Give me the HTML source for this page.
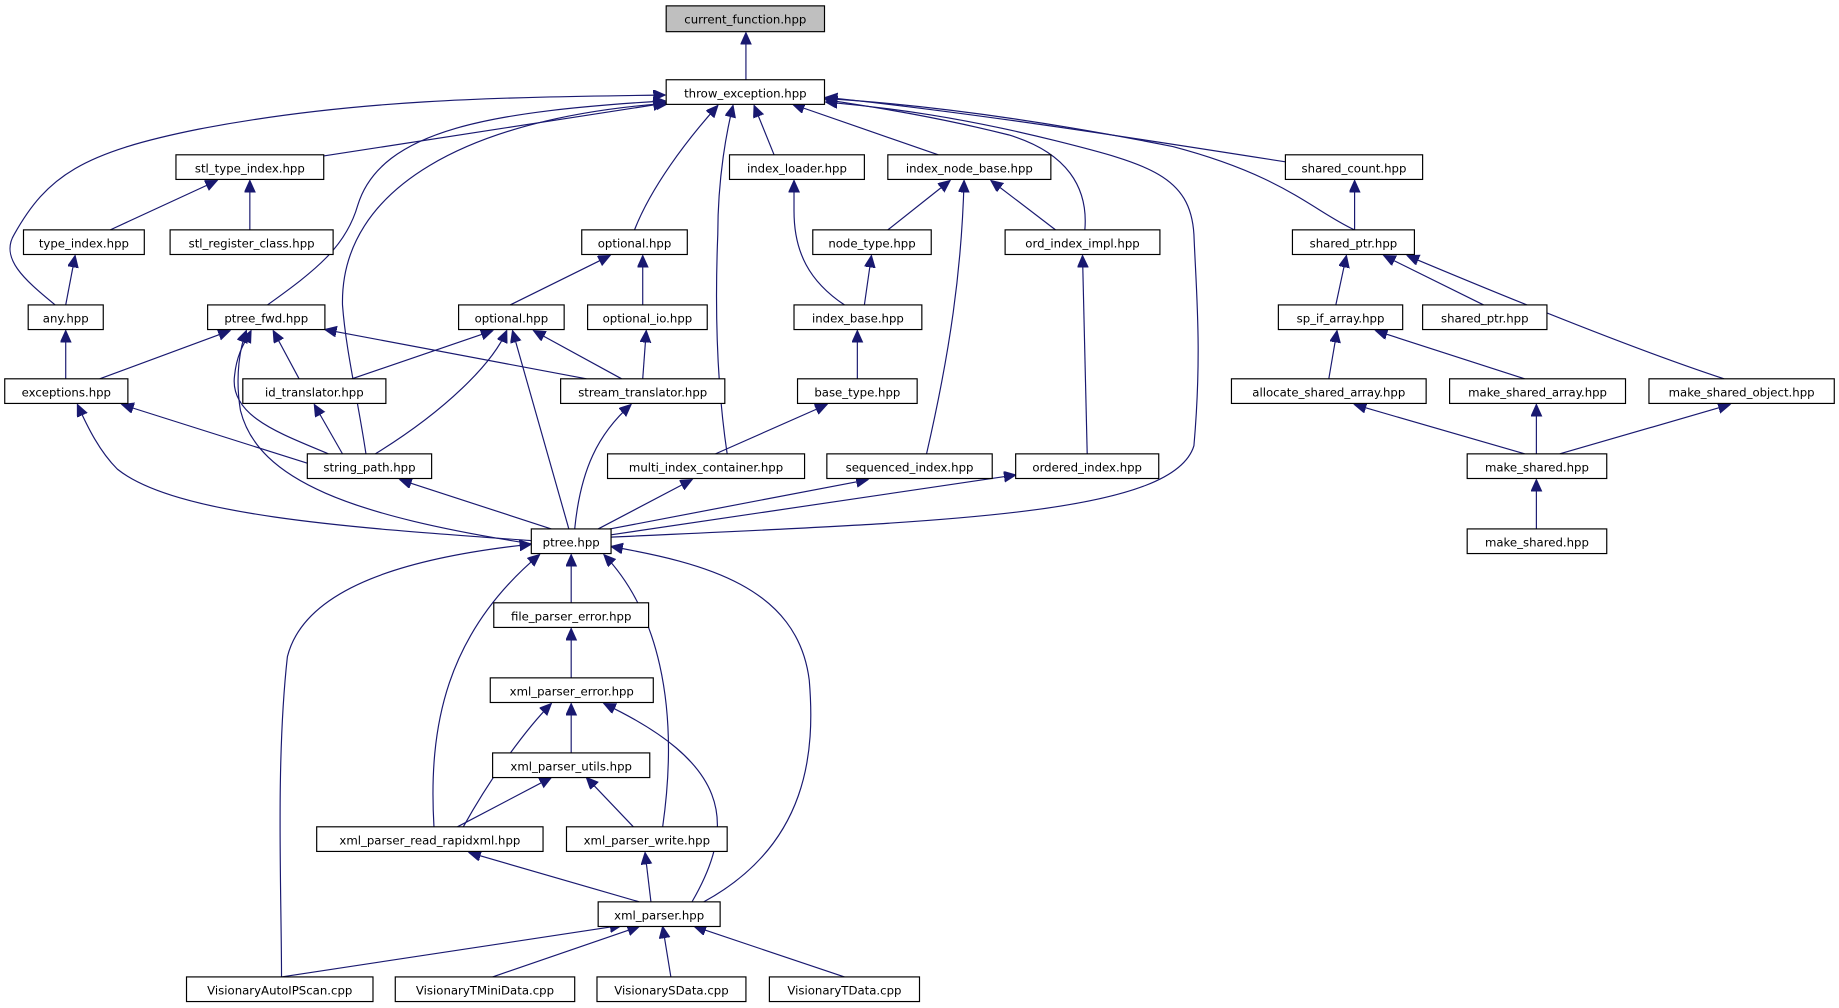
<!DOCTYPE html>
<html><head><meta charset="utf-8"><style>
html,body{margin:0;padding:0;background:#fff;width:1839px;height:1008px;overflow:hidden}
svg{display:block}
text{font-family:"DejaVu Sans","Liberation Sans",sans-serif;font-size:10px;fill:#000;text-anchor:middle}
rect{fill:#fff;stroke:#000;stroke-width:1}
path{fill:none;stroke:#191970;stroke-width:1}
</style></head><body>
<svg width="1839" height="1008" viewBox="0 0 1568 859.5" xmlns="http://www.w3.org/2000/svg">
<defs><marker id="a" markerUnits="userSpaceOnUse" markerWidth="12" markerHeight="10" refX="10" refY="4.5" orient="auto"><polygon points="0,0 10,4.5 0,9" fill="#191970" stroke="#191970"/></marker></defs>
<g marker-end="url(#a)">
<path d="M636,68 L636,28"/>
<path d="M276,133 L567,88"/>
<path d="M47,260 C20,238 0,220 12,200 C40,150 70,130 170,110 C300,85 420,83 567,81"/>
<path d="M228,260 C270,230 295,210 305,175 C325,110 420,95 567,86"/>
<path d="M312,387 C305,340 295,300 292,260 C290,160 400,100 570,88"/>
<path d="M541,196 C555,160 585,120 612,90"/>
<path d="M620,387 C610,320 610,250 612,200 C612,150 620,110 625,90"/>
<path d="M660,132 L643,90"/>
<path d="M800,132 L676,89"/>
<path d="M925,196 C928,160 910,130 860,115 C800,100 750,92 704,85"/>
<path d="M521,458 C800,445 1000,440 1018,380 C1025,300 1020,250 1018,200 C1015,150 980,140 900,120 C820,100 760,92 704,87"/>
<path d="M1096,138 C950,115 820,95 704,83"/>
<path d="M1155,196 C1120,180 1095,150 1000,125 C900,105 800,90 704,84"/>
<path d="M94,196 L185,154"/>
<path d="M213,196 L213,154"/>
<path d="M56,260 L64,218"/>
<path d="M56,323 L56,282"/>
<path d="M85,323 L196,282"/>
<path d="M255,323 L233,282"/>
<path d="M500,323 L277,281"/>
<path d="M280,387 C240,370 195,355 200,320 C202,300 210,290 214,282"/>
<path d="M455,464 C300,440 220,410 205,350 C200,320 205,295 210,282"/>
<path d="M292,387 L268,345"/>
<path d="M262,395 L104,345"/>
<path d="M453,461 C300,450 150,440 100,400 C85,385 75,365 66,345"/>
<path d="M470,451 L341,409"/>
<path d="M435,260 L520,218"/>
<path d="M548,260 L548,218"/>
<path d="M300,323 L420,282"/>
<path d="M320,387 C380,350 420,310 432,282"/>
<path d="M485,451 L437,282"/>
<path d="M530,323 L455,282"/>
<path d="M548,323 L551,282"/>
<path d="M490,451 C495,400 510,370 538,345"/>
<path d="M757,196 L810,154"/>
<path d="M900,196 L845,154"/>
<path d="M790,387 C810,300 820,230 822,154"/>
<path d="M737,260 L743,218"/>
<path d="M720,260 C690,240 677,215 677,180 L677,154"/>
<path d="M731,323 L731,282"/>
<path d="M610,387 L705,345"/>
<path d="M927,387 L923,218"/>
<path d="M510,451 L590,409"/>
<path d="M515,452 L740,409"/>
<path d="M521,456 L866,405"/>
<path d="M1155,196 L1155,154"/>
<path d="M1139,260 L1148,218"/>
<path d="M1265,260 L1180,218"/>
<path d="M1470,323 C1400,300 1300,260 1200,218"/>
<path d="M1133,323 L1140,282"/>
<path d="M1300,323 L1173,282"/>
<path d="M1300,387 L1155,345"/>
<path d="M1310,387 L1310,345"/>
<path d="M1330,387 L1475,345"/>
<path d="M1310,451 L1310,409"/>
<path d="M487,514 L487,473"/>
<path d="M487,578 L487,536"/>
<path d="M487,642 L487,600"/>
<path d="M395,705 C420,660 450,620 470,600"/>
<path d="M370,705 C365,620 380,540 460,473"/>
<path d="M390,705 L470,663"/>
<path d="M540,705 L500,663"/>
<path d="M565,705 C580,600 560,520 515,473"/>
<path d="M555,769 L550,727"/>
<path d="M545,769 L400,727"/>
<path d="M590,769 C630,700 620,650 515,600"/>
<path d="M600,769 C690,720 695,640 690,580 C680,500 600,480 521,466"/>
<path d="M240,833 C240,760 235,650 245,560 C260,500 350,475 453,464"/>
<path d="M240,833 L530,789"/>
<path d="M420,833 L545,790"/>
<path d="M572,833 L565,790"/>
<path d="M720,833 L592,790"/>
</g>
<g>
<rect x="568" y="5" width="135" height="22" style="fill:#bfbfbf"/><text x="635.5" y="20">current_function.hpp</text>
<rect x="568" y="68" width="135" height="21"/><text x="635.5" y="83">throw_exception.hpp</text>
<rect x="150" y="132" width="126" height="21"/><text x="213" y="147">stl_type_index.hpp</text>
<rect x="622" y="132" width="115" height="21"/><text x="679.5" y="147">index_loader.hpp</text>
<rect x="757" y="132" width="139" height="21"/><text x="826.5" y="147">index_node_base.hpp</text>
<rect x="1096" y="132" width="117" height="21"/><text x="1154.5" y="147">shared_count.hpp</text>
<rect x="20" y="196" width="103" height="21"/><text x="71.5" y="211">type_index.hpp</text>
<rect x="145" y="196" width="139" height="21"/><text x="214.5" y="211">stl_register_class.hpp</text>
<rect x="496" y="196" width="90" height="21"/><text x="541" y="211">optional.hpp</text>
<rect x="693" y="196" width="101" height="21"/><text x="743.5" y="211">node_type.hpp</text>
<rect x="857" y="196" width="132" height="21"/><text x="923" y="211">ord_index_impl.hpp</text>
<rect x="1102" y="196" width="104" height="21"/><text x="1154" y="211">shared_ptr.hpp</text>
<rect x="24" y="260" width="64" height="21"/><text x="56" y="275">any.hpp</text>
<rect x="177" y="260" width="100" height="21"/><text x="227" y="275">ptree_fwd.hpp</text>
<rect x="391" y="260" width="90" height="21"/><text x="436" y="275">optional.hpp</text>
<rect x="501" y="260" width="102" height="21"/><text x="552" y="275">optional_io.hpp</text>
<rect x="677" y="260" width="109" height="21"/><text x="731.5" y="275">index_base.hpp</text>
<rect x="1090" y="260" width="106" height="21"/><text x="1143" y="275">sp_if_array.hpp</text>
<rect x="1213" y="260" width="106" height="21"/><text x="1266" y="275">shared_ptr.hpp</text>
<rect x="4" y="323" width="105" height="21"/><text x="56.5" y="338">exceptions.hpp</text>
<rect x="207" y="323" width="122" height="21"/><text x="268" y="338">id_translator.hpp</text>
<rect x="478" y="323" width="140" height="21"/><text x="548" y="338">stream_translator.hpp</text>
<rect x="680" y="323" width="102" height="21"/><text x="731" y="338">base_type.hpp</text>
<rect x="1050" y="323" width="166" height="21"/><text x="1133" y="338">allocate_shared_array.hpp</text>
<rect x="1236" y="323" width="150" height="21"/><text x="1311" y="338">make_shared_array.hpp</text>
<rect x="1406" y="323" width="158" height="21"/><text x="1485" y="338">make_shared_object.hpp</text>
<rect x="262" y="387" width="106" height="21"/><text x="315" y="402">string_path.hpp</text>
<rect x="518" y="387" width="168" height="21"/><text x="602" y="402">multi_index_container.hpp</text>
<rect x="705" y="387" width="141" height="21"/><text x="775.5" y="402">sequenced_index.hpp</text>
<rect x="866" y="387" width="122" height="21"/><text x="927" y="402">ordered_index.hpp</text>
<rect x="1251" y="387" width="119" height="21"/><text x="1310.5" y="402">make_shared.hpp</text>
<rect x="453" y="451" width="68" height="21"/><text x="487" y="466">ptree.hpp</text>
<rect x="1251" y="451" width="119" height="21"/><text x="1310.5" y="466">make_shared.hpp</text>
<rect x="421" y="514" width="132" height="21"/><text x="487" y="529">file_parser_error.hpp</text>
<rect x="418" y="578" width="139" height="21"/><text x="487.5" y="593">xml_parser_error.hpp</text>
<rect x="420" y="642" width="134" height="21"/><text x="487" y="657">xml_parser_utils.hpp</text>
<rect x="270" y="705" width="193" height="21"/><text x="366.5" y="720">xml_parser_read_rapidxml.hpp</text>
<rect x="483" y="705" width="137" height="21"/><text x="551.5" y="720">xml_parser_write.hpp</text>
<rect x="510" y="769" width="104" height="21"/><text x="562" y="784">xml_parser.hpp</text>
<rect x="159" y="833" width="159" height="21"/><text x="238.5" y="848">VisionaryAutoIPScan.cpp</text>
<rect x="337" y="833" width="153" height="21"/><text x="413.5" y="848">VisionaryTMiniData.cpp</text>
<rect x="509" y="833" width="127" height="21"/><text x="572.5" y="848">VisionarySData.cpp</text>
<rect x="656" y="833" width="128" height="21"/><text x="720" y="848">VisionaryTData.cpp</text>
</g>
</svg>
</body></html>
